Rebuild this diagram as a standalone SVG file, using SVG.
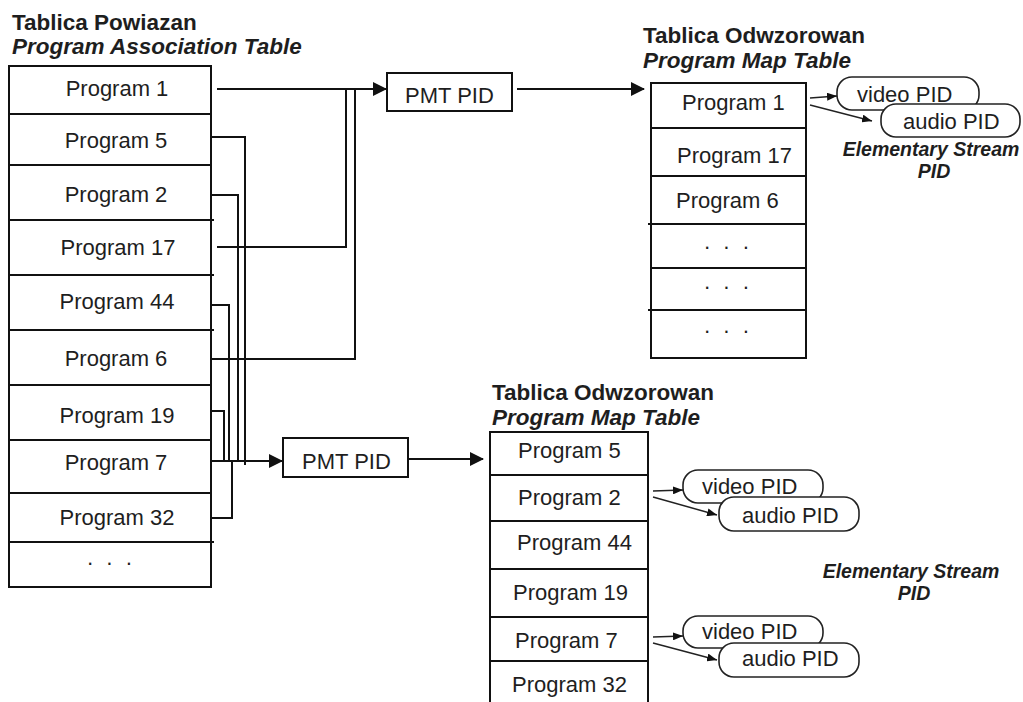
<svg xmlns="http://www.w3.org/2000/svg" width="1023" height="702" viewBox="0 0 1023 702">
<style>
  text { font-family: "Liberation Sans", Arial, sans-serif; fill: #1e1e1e; }
  .t { font-size: 22px; }
  .h { font-size: 22.5px; font-weight: bold; }
  .hi { font-size: 22.5px; font-weight: bold; font-style: italic; }
  .es { font-size: 19.5px; font-weight: bold; font-style: italic; text-anchor: middle; }
  .dots { font-size: 22px; text-anchor: middle; letter-spacing: 3px; }
  .box { fill: #fff; stroke: #111; stroke-width: 2; }
  .sep { stroke: #111; stroke-width: 2; fill: none; }
  .pill { fill: #fff; stroke: #222; stroke-width: 1.6; }
  .conn { stroke: #111; stroke-width: 2; fill: none; }
  .thin { stroke: #222; stroke-width: 1.5; fill: none; }
</style>
<defs>
  <marker id="ah" markerUnits="userSpaceOnUse" markerWidth="14" markerHeight="14" viewBox="0 0 14 14" refX="13" refY="7" orient="auto">
    <path d="M0,0 L14,7 L0,14 Z" fill="#111"/>
  </marker>
  <marker id="sa" markerUnits="userSpaceOnUse" markerWidth="10" markerHeight="8" viewBox="0 0 10 8" refX="10" refY="4" orient="auto">
    <path d="M0,0 L10,4 L0,8 Z" fill="#111"/>
  </marker>
</defs>
<rect width="1023" height="702" fill="#fff"/>

<!-- Program Association Table -->
<g id="pat">
  <text class="h" x="12" y="30">Tablica Powiazan</text>
  <text class="hi" x="12" y="54">Program Association Table</text>
  <rect class="box" x="9" y="66" width="202" height="521"/>
  <path class="sep" d="M9,114H211 M9,165H211 M9,220H214 M9,275H214 M9,330H214 M9,385H211 M9,440H211 M9,493H211 M9,542H214"/>
  <text class="t" x="117" y="96" text-anchor="middle">Program 1</text>
  <text class="t" x="116" y="148" text-anchor="middle">Program 5</text>
  <text class="t" x="116" y="202" text-anchor="middle">Program 2</text>
  <text class="t" x="118" y="255" text-anchor="middle">Program 17</text>
  <text class="t" x="117" y="309" text-anchor="middle">Program 44</text>
  <text class="t" x="116" y="366" text-anchor="middle">Program 6</text>
  <text class="t" x="117" y="423" text-anchor="middle">Program 19</text>
  <text class="t" x="116" y="470" text-anchor="middle">Program 7</text>
  <text class="t" x="117" y="525" text-anchor="middle">Program 32</text>
  <text class="dots" x="111" y="570">· · ·</text>
</g>

<!-- PMT PID boxes -->
<g id="pmt-pid-1">
  <rect class="box" x="387" y="73" width="125" height="38"/>
  <text class="t" x="405" y="103">PMT PID</text>
</g>
<g id="pmt-pid-2">
  <rect class="box" x="283" y="438" width="125" height="39"/>
  <text class="t" x="302" y="469">PMT PID</text>
</g>

<!-- Program Map Table 1 -->
<g id="pmt-1">
  <text class="h" x="643" y="43">Tablica Odwzorowan</text>
  <text class="hi" x="643" y="68">Program Map Table</text>
  <rect class="box" x="651" y="83" width="155" height="275"/>
  <path class="sep" d="M651,128H806 M651,176H806 M648,224H806 M651,268H806 M648,310H806"/>
  <text class="t" x="682" y="110">Program 1</text>
  <text class="t" x="677" y="163">Program 17</text>
  <text class="t" x="676" y="208">Program 6</text>
  <text class="dots" x="728" y="254">· · ·</text>
  <text class="dots" x="728" y="294">· · ·</text>
  <text class="dots" x="728" y="338">· · ·</text>
</g>

<!-- Program Map Table 2 -->
<g id="pmt-2">
  <text class="h" x="492" y="400">Tablica Odwzorowan</text>
  <text class="hi" x="492" y="425">Program Map Table</text>
  <path class="sep" d="M490,704V432H648V704 M490,475H648 M490,521H648 M490,569H648 M490,617H648 M490,661H648"/>
  <text class="t" x="518" y="458">Program 5</text>
  <text class="t" x="518" y="505">Program 2</text>
  <text class="t" x="517" y="550">Program 44</text>
  <text class="t" x="513" y="600">Program 19</text>
  <text class="t" x="515" y="648">Program 7</text>
  <text class="t" x="512" y="692">Program 32</text>
</g>

<!-- Elementary stream PIDs -->
<g id="es-1">
  <rect class="pill" x="837" y="77" width="142" height="33" rx="15" ry="15"/>
  <text class="t" x="857" y="102">video PID</text>
  <rect class="pill" x="881" y="104" width="139" height="33" rx="15" ry="15"/>
  <text class="t" x="903" y="129">audio PID</text>
  <text class="es" x="931" y="156">Elementary Stream</text>
  <text class="es" x="934" y="178">PID</text>
</g>
<g id="es-2">
  <rect class="pill" x="683" y="470" width="140" height="33" rx="15" ry="15"/>
  <text class="t" x="702" y="494">video PID</text>
  <rect class="pill" x="719" y="497" width="140" height="34" rx="15" ry="15"/>
  <text class="t" x="742" y="523">audio PID</text>
</g>
<g id="es-3">
  <rect class="pill" x="683" y="616" width="140" height="32" rx="15" ry="15"/>
  <text class="t" x="702" y="639">video PID</text>
  <rect class="pill" x="719" y="643" width="140" height="34" rx="15" ry="15"/>
  <text class="t" x="742" y="666">audio PID</text>
</g>
<g id="es-label-2">
  <text class="es" x="911" y="578">Elementary Stream</text>
  <text class="es" x="914" y="600">PID</text>
</g>

<!-- Connectors -->
<g id="connectors">
  <path class="conn" d="M217,89H386" marker-end="url(#ah)"/>
  <path class="conn" d="M217,247H346V89"/>
  <path class="conn" d="M211,359H355V89"/>
  <path class="conn" d="M517,89H644" marker-end="url(#ah)"/>

  <path class="conn" d="M211,137H245V465"/>
  <path class="conn" d="M211,195H238V461"/>
  <path class="conn" d="M211,305H229V461"/>
  <path class="conn" d="M211,411H224V461"/>
  <path class="conn" d="M211,518H232V461"/>
  <path class="conn" d="M211,461H282" marker-end="url(#ah)"/>
  <path class="conn" d="M408,459H483" marker-end="url(#ah)"/>

  <path class="thin" d="M810,98L837,96" marker-end="url(#sa)"/>
  <path class="thin" d="M810,105L872,121" marker-end="url(#sa)"/>
  <path class="thin" d="M653,491L683,490" marker-end="url(#sa)"/>
  <path class="thin" d="M653,497L717,515" marker-end="url(#sa)"/>
  <path class="thin" d="M653,637L683,636" marker-end="url(#sa)"/>
  <path class="thin" d="M653,643L717,660" marker-end="url(#sa)"/>
</g>
</svg>
